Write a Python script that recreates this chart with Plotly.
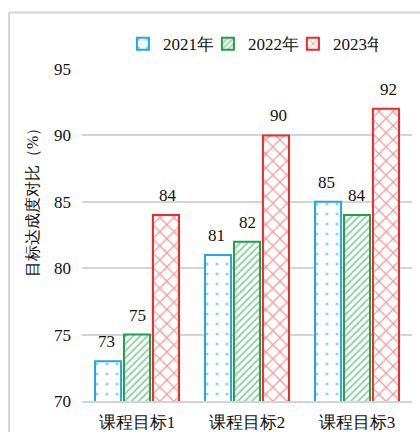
import plotly.graph_objects as go

# Course objectives and achievement values (%) per year
categories = ["课程目标1", "课程目标2", "课程目标3"]
years = ["2021年", "2022年", "2023年"]
values_2021 = [73, 81, 85]
values_2022 = [75, 82, 84]
values_2023 = [84, 90, 92]
y_ticks = [70, 75, 80, 85, 90, 95]

series = [values_2021, values_2022, values_2023]
colors = ["#22A7E0", "#23A04B", "#EE2A2A"]
shapes = [".", "/", "x"]
pat_sizes = [10, 5, 10]
pat_solid = [0.08, 0.38, 0.22]

FONT = "Liberation Serif"

fig = go.Figure()
for name, vals, col, shp, ps, so in zip(years, series, colors, shapes, pat_sizes, pat_solid):
    fig.add_trace(go.Bar(
        name=name, x=categories, y=vals,
        marker=dict(
            color="white",
            line=dict(color=col, width=2),
            pattern=dict(shape=shp, fgcolor=col, bgcolor="white",
                         fillmode="overlay", size=ps, solidity=so),
        ),
    ))

# value labels above each bar
offsets = [-31, 0, 31]
for vals, dx in zip(series, offsets):
    for cat, v in zip(categories, vals):
        fig.add_annotation(x=cat, y=v, text=str(v), showarrow=False,
                           xshift=dx, yshift=8, yanchor="bottom",
                           font=dict(family=FONT, size=17, color="#111"))

# y-axis title
fig.add_annotation(xref="paper", yref="paper", x=-0.15, y=0.61,
                   text="目标达成度对比（%）", textangle=-90, showarrow=False,
                   xanchor="center", yanchor="middle",
                   font=dict(family=FONT, size=16, color="#111"))

# outer frame
fig.add_shape(type="line", xref="paper", yref="paper",
              x0=-0.221, x1=1.1, y0=1.17, y1=1.17,
              line=dict(color="#D4D4D4", width=2))
fig.add_shape(type="line", xref="paper", yref="paper",
              x0=-0.221, x1=-0.221, y0=1.17, y1=-0.2,
              line=dict(color="#D4D4D4", width=2))

fig.update_layout(
    width=420, height=432,
    margin=dict(l=82, r=8, t=69, b=31),
    paper_bgcolor="white", plot_bgcolor="white",
    barmode="group", bargap=0.21, bargroupgap=0.1,
    font=dict(family=FONT, size=16, color="#111"),
    showlegend=True,
    legend=dict(orientation="h", x=0.124, y=1.075, xanchor="left", yanchor="middle",
                entrywidth=40, entrywidthmode="pixels", itemwidth=30,
                font=dict(family=FONT, size=17, color="#111"), bgcolor="rgba(0,0,0,0)"),
)
fig.update_yaxes(range=[70, 95], tickvals=y_ticks, showgrid=True,
                 gridcolor="#D4D4D4", gridwidth=2, zeroline=False,
                 showline=False, ticklabelstandoff=10, automargin=False,
                 tickfont=dict(family=FONT, size=17, color="#111"))
fig.update_xaxes(showline=True, linecolor="#D4D4D4", linewidth=2,
                 ticklabelstandoff=5, automargin=False,
                 tickfont=dict(family=FONT, size=17, color="#111"))

fig.write_html("out.html")
